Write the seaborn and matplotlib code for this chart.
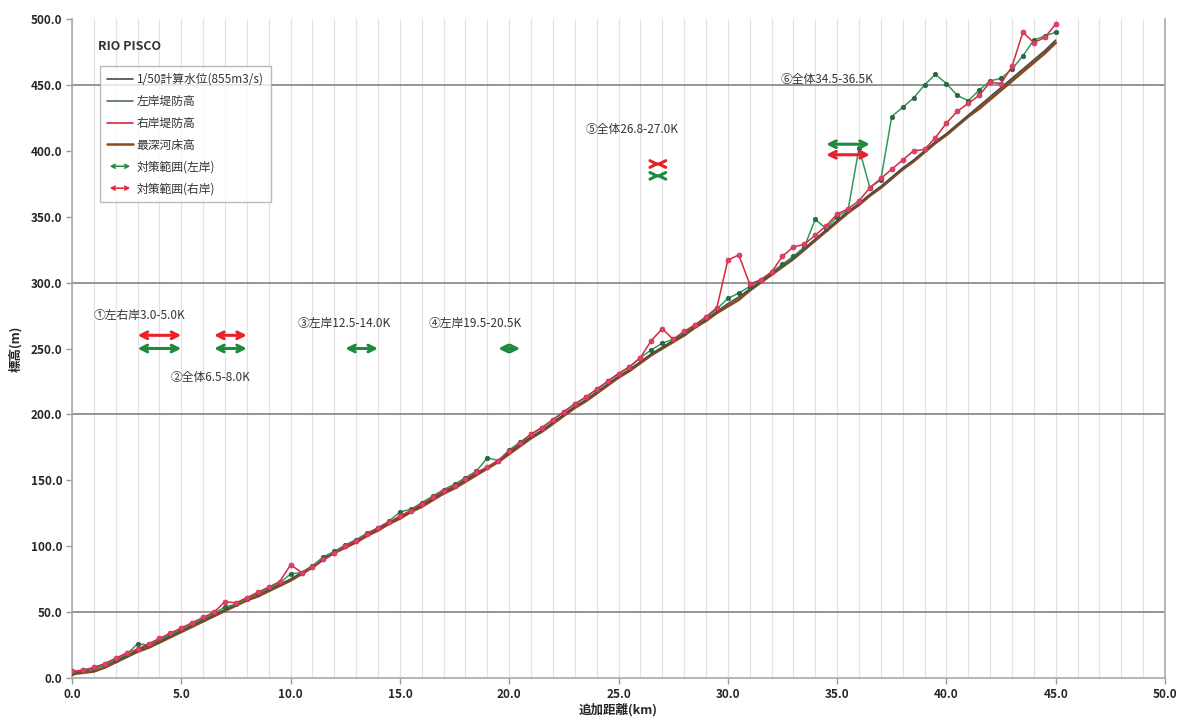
import numpy as np
import pandas as pd
import matplotlib
matplotlib.use("Agg")
import matplotlib.pyplot as plt
import seaborn as sns
from matplotlib.lines import Line2D
from matplotlib.patches import FancyArrowPatch
from matplotlib.legend_handler import HandlerBase

# ---------------- data ----------------
km = [0.0, 0.5, 1.0, 1.5, 2.0, 2.5, 3.0, 3.5, 4.0, 4.5,
      5.0, 5.5, 6.0, 6.5, 7.0, 7.5, 8.0, 8.5, 9.0, 9.5,
      10.0, 10.5, 11.0, 11.5, 12.0, 12.5, 13.0, 13.5, 14.0, 14.5,
      15.0, 15.5, 16.0, 16.5, 17.0, 17.5, 18.0, 18.5, 19.0, 19.5,
      20.0, 20.5, 21.0, 21.5, 22.0, 22.5, 23.0, 23.5, 24.0, 24.5,
      25.0, 25.5, 26.0, 26.5, 27.0, 27.5, 28.0, 28.5, 29.0, 29.5,
      30.0, 30.5, 31.0, 31.5, 32.0, 32.5, 33.0, 33.5, 34.0, 34.5,
      35.0, 35.5, 36.0, 36.5, 37.0, 37.5, 38.0, 38.5, 39.0, 39.5,
      40.0, 40.5, 41.0, 41.5, 42.0, 42.5, 43.0, 43.5, 44.0, 44.5,
      45.0]

water_level = [4, 5, 7, 10, 13, 17, 21, 25, 28, 32,
               36, 40, 44, 48, 52, 56, 60, 64, 67, 71,
               75, 80, 85, 91, 96, 100, 104, 109, 113, 118,
               122, 127, 131, 136, 141, 145, 150, 155, 160, 165,
               171, 177, 183, 188, 194, 200, 206, 211, 217, 223,
               229, 234, 240, 246, 251, 256, 261, 267, 272, 278,
               284, 289, 295, 301, 307, 313, 319, 326, 333, 340,
               347, 354, 360, 367, 373, 380, 387, 393, 400, 407,
               413, 420, 427, 434, 441, 448, 455, 462, 469, 476,
               484]

left_bank = [4, 6, 7, 10, 14, 18, 26, 25, 29, 33,
             37, 41, 45, 49, 54, 56, 60, 64, 68, 72,
             79, 80, 85, 92, 96, 101, 105, 110, 114, 119,
             126, 128, 133, 138, 143, 147, 152, 157, 167, 165,
             173, 179, 185, 190, 196, 202, 208, 213, 219, 225,
             231, 236, 243, 249, 254, 257, 262, 268, 273, 280,
             288, 292, 297, 302, 308, 314, 320, 327, 348, 341,
             350, 355, 402, 372, 378, 426, 433, 440, 450, 458,
             451, 442, 438, 446, 453, 455, 462, 472, 484, 487,
             490]

right_bank = [5, 6, 8, 11, 15, 19, 22, 26, 30, 34,
              38, 42, 46, 50, 58, 57, 61, 65, 69, 73,
              86, 80, 84, 90, 95, 100, 104, 109, 114, 118,
              123, 127, 132, 137, 142, 146, 151, 156, 160, 165,
              172, 178, 185, 190, 196, 202, 208, 213, 219, 225,
              231, 236, 243, 256, 265, 257, 263, 268, 274, 281,
              317, 321, 299, 302, 308, 320, 327, 329, 336, 343,
              352, 356, 362, 372, 379, 386, 393, 400, 401, 410,
              421, 430, 436, 442, 452, 451, 464, 490, 482, 486,
              496]

bed = [3, 4, 5, 8, 12, 16, 20, 23, 27, 31,
       35, 39, 43, 47, 51, 55, 59, 62, 66, 70,
       74, 79, 84, 90, 95, 99, 103, 108, 112, 117,
       121, 126, 130, 135, 140, 144, 149, 154, 159, 164,
       170, 176, 182, 187, 193, 199, 205, 210, 216, 222,
       228, 233, 239, 245, 250, 255, 260, 266, 271, 277,
       282, 287, 294, 300, 306, 312, 318, 325, 332, 339,
       346, 353, 359, 366, 372, 379, 386, 392, 399, 406,
       412, 419, 426, 432, 439, 446, 453, 460, 467, 474,
       482]

series_names = ["1/50計算水位(855m3/s)", "左岸堤防高", "右岸堤防高", "最深河床高"]
measure_names = ["対策範囲(左岸)", "対策範囲(右岸)"]

# countermeasure ranges: (start km, end km, elevation)
left_ranges = [(3.0, 5.0, 250), (6.5, 8.0, 250), (12.5, 14.0, 250),
               (19.5, 20.5, 250), (26.7, 26.9, 381), (34.5, 36.5, 405)]
right_ranges = [(3.0, 5.0, 260), (6.5, 8.0, 260), (26.7, 26.9, 390),
                (34.5, 36.5, 397)]

annot_texts = ["①左右岸3.0-5.0K", "②全体6.5-8.0K", "③左岸12.5-14.0K",
               "④左岸19.5-20.5K", "⑤全体26.8-27.0K", "⑥全体34.5-36.5K"]
annot_pos = [(1.0, 275), (4.5, 228), (10.3, 269), (16.3, 269), (23.5, 416), (32.4, 454)]

hgrid_levels = [50, 200, 300, 450]
x_ticks = [0, 5, 10, 15, 20, 25, 30, 35, 40, 45, 50]
y_ticks = [0, 50, 100, 150, 200, 250, 300, 350, 400, 450, 500]

# ---------------- style ----------------
sns.set_theme(style="white")
plt.rcParams['font.family'] = ['Noto Sans CJK JP', 'DejaVu Sans']
plt.rcParams['axes.unicode_minus'] = False

fig = plt.figure(figsize=(11.8, 7.27), dpi=100)
ax = fig.add_axes([72/1180, 1-678/727, (1165-72)/1180, (678-19)/727])

C_WATER = "#4a4a4a"
C_LEFT = "#2e9a58"
C_RIGHT = "#d42a3a"
C_BED = "#8a4a1c"
C_ARR_G = "#1e8a3c"
C_ARR_R = "#e8202a"

# grid
for xv in range(0, 51):
    ax.axvline(xv, color="#e2e2e2", lw=0.9, zorder=0)
for yv in hgrid_levels:
    ax.axhline(yv, color="#8c8c8c", lw=1.3, zorder=0.5)

df = pd.DataFrame({"km": km, "water": water_level, "left": left_bank,
                   "right": right_bank, "bed": bed})

sns.lineplot(data=df, x="km", y="bed", ax=ax, color=C_BED, lw=2.0, zorder=2)
sns.lineplot(data=df, x="km", y="water", ax=ax, color=C_WATER, lw=1.2, zorder=3)
sns.lineplot(data=df, x="km", y="left", ax=ax, color=C_LEFT, lw=1.1, zorder=4,
             marker="o", markersize=3.2, markeredgecolor="#2d5a3c",
             markerfacecolor="#2d6a44", markeredgewidth=0.5)
sns.lineplot(data=df, x="km", y="right", ax=ax, color=C_RIGHT, lw=1.1, zorder=5,
             marker="o", markersize=3.6, markeredgecolor="#d0305a",
             markerfacecolor="#e0406a", markeredgewidth=0.5)

# countermeasure arrows
for (a, b, y) in left_ranges:
    ax.annotate("", xy=(b, y), xytext=(a, y),
                arrowprops=dict(arrowstyle="<->", color=C_ARR_G, lw=2.2,
                                mutation_scale=12, shrinkA=0, shrinkB=0), zorder=6)
for (a, b, y) in right_ranges:
    ax.annotate("", xy=(b, y), xytext=(a, y),
                arrowprops=dict(arrowstyle="<->", color=C_ARR_R, lw=2.2,
                                mutation_scale=12, shrinkA=0, shrinkB=0), zorder=6)

for t, (x, y) in zip(annot_texts, annot_pos):
    ax.text(x, y, t, fontsize=8.5, color="#333333", va="center", ha="left", zorder=7)

# axes
ax.set_xlim(0, 50)
ax.set_ylim(0, 500)
ax.set_xticks(x_ticks)
ax.set_yticks(y_ticks)
ax.set_xticklabels([f"{v:.1f}" for v in x_ticks], fontsize=8.5, fontweight="bold")
ax.set_yticklabels([f"{v:.1f}" for v in y_ticks], fontsize=8.5, fontweight="bold")
ax.tick_params(axis="both", direction="out", length=4, width=1, color="#999999",
               bottom=True, left=True, pad=3)
ax.set_xlabel("追加距離(km)", fontsize=9, fontweight="bold", labelpad=2)
ax.set_ylabel("標高(m)", fontsize=9, fontweight="bold", labelpad=6)
for side in ["left", "bottom", "right"]:
    ax.spines[side].set_color("#aaaaaa")
    ax.spines[side].set_linewidth(1.2)
ax.spines["top"].set_visible(False)

# legend
class ArrowHandler(HandlerBase):
    def create_artists(self, legend, orig_handle, xdescent, ydescent, width,
                       height, fontsize, trans):
        y = height / 2 - ydescent
        arr = FancyArrowPatch((-xdescent, y), (width - xdescent, y),
                              arrowstyle="<->", mutation_scale=7,
                              color=orig_handle.get_color(), lw=1.1,
                              transform=trans)
        return [arr]

h_water = Line2D([], [], color=C_WATER, lw=1.2)
h_left = Line2D([], [], color="#557060", lw=1.2)
h_right = Line2D([], [], color=C_RIGHT, lw=1.2)
h_bed = Line2D([], [], color=C_BED, lw=1.8)
h_ag = Line2D([], [], color=C_ARR_G)
h_ar = Line2D([], [], color=C_ARR_R)
handles = [h_water, h_left, h_right, h_bed, h_ag, h_ar]
labels = series_names + measure_names
leg = ax.legend(handles, labels, loc="upper left",
                bbox_to_anchor=((94-72)/1093, 1-(60-19)/659),
                fontsize=8.5, frameon=True, fancybox=False,
                handlelength=2.2, handletextpad=0.3, labelspacing=0.75,
                borderpad=0.6,
                handler_map={h_ag: ArrowHandler(), h_ar: ArrowHandler()})
leg.get_frame().set_edgecolor("#aaaaaa")
leg.get_frame().set_linewidth(1.0)
for t in leg.get_texts():
    t.set_color("#333333")

ax.text((98-72)/1093, 1-(46-19)/659, "RIO PISCO", transform=ax.transAxes,
        fontsize=9, fontweight="bold", color="#333333", va="center", ha="left")

fig.savefig("out.png", dpi=100)
